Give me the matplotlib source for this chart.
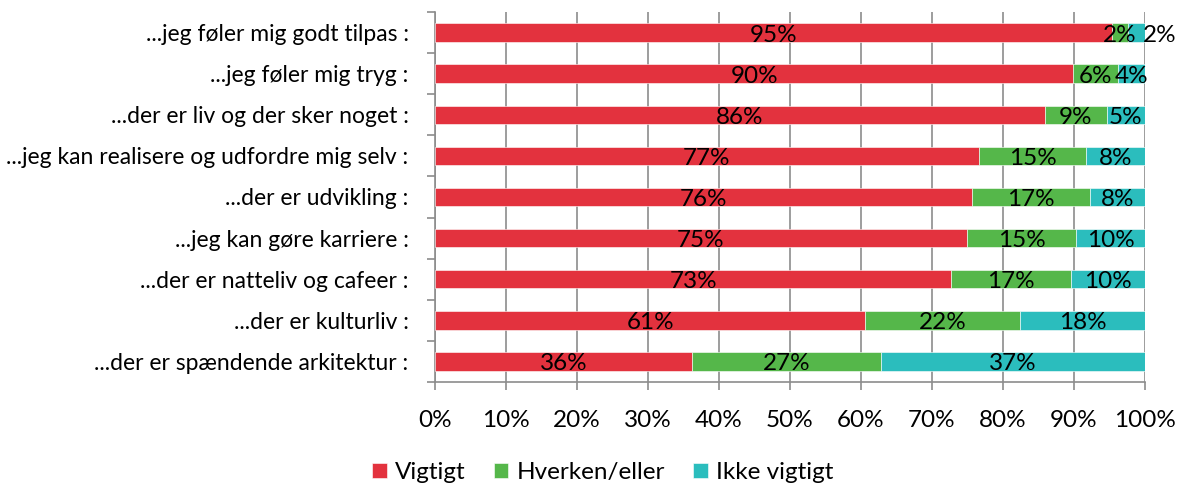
import matplotlib
matplotlib.use("Agg")
import matplotlib.pyplot as plt
import numpy as np

plt.rcParams['font.family'] = ['Lato', 'DejaVu Sans']

categories = [
    "...jeg føler mig godt tilpas :",
    "...jeg føler mig tryg :",
    "...der er liv og der sker noget :",
    "...jeg kan realisere og udfordre mig selv :",
    "...der er udvikling :",
    "...jeg kan gøre karriere :",
    "...der er natteliv og cafeer :",
    "...der er kulturliv :",
    "...der er spændende arkitektur :",
]
vigtigt = [95.4, 89.9, 85.9, 76.6, 75.6, 74.9, 72.7, 60.6, 36.2]
hverken = [2.2, 6.3, 8.7, 15.1, 16.7, 15.4, 16.9, 21.8, 26.6]
ikke = [2.4, 3.8, 5.4, 8.3, 7.7, 9.7, 10.4, 17.6, 37.2]
series_names = ["Vigtigt", "Hverken/eller", "Ikke vigtigt"]
colors = ["#E3323E", "#55B74A", "#2BBDBD"]
xticks = np.arange(0, 101, 10)

fig = plt.figure(figsize=(11.82, 4.83), dpi=100)
ax = fig.add_axes([435/1182, (483-382)/483, 710/1182, 370/483])

y = np.arange(len(categories))
left = np.zeros(len(categories))
grid_c = "#8C8C8C"
for vals, name, c in zip([vigtigt, hverken, ikke], series_names, colors):
    vals = np.array(vals)
    ax.barh(y, vals, left=left, height=0.45, color=c, label=name, zorder=3,
            edgecolor="white", linewidth=0.4)
    for i, (l, v) in enumerate(zip(left, vals)):
        xc = l + v / 2
        if i == 0 and name == "Ikke vigtigt":
            xc = 102.1
        ax.text(xc, i + 0.06, f"{v:.0f}%", ha="center", va="center",
                fontsize=17.5, color="black", zorder=5, clip_on=False)
    left += vals

ax.set_xlim(0, 100)
ax.set_ylim(len(categories) - 0.5, -0.5)
ax.set_xticks(xticks)
ax.set_xticklabels([f"{t}%" for t in xticks], fontsize=17.5)
ax.set_yticks(y)
ax.set_yticklabels(categories, fontsize=16.5)
ax.set_yticks(np.arange(-0.5, len(categories), 1), minor=True)
ax.tick_params(axis="y", which="major", length=0, pad=19)
ax.tick_params(axis="y", which="minor", length=6, color=grid_c, width=1.2)
ax.tick_params(axis="x", length=6, color=grid_c, width=1.2, pad=14)
ax.xaxis.grid(True, color=grid_c, linewidth=1.2, zorder=0)
for s in ["top", "right"]:
    ax.spines[s].set_visible(False)
for s in ["left", "bottom"]:
    ax.spines[s].set_color(grid_c)
    ax.spines[s].set_linewidth(1.2)

fig.legend(loc="lower center", bbox_to_anchor=(0.51, -0.045), ncol=3, frameon=False,
           fontsize=17.5, handlelength=0.6, handleheight=0.6, handletextpad=0.35,
           columnspacing=1.15)

fig.savefig("out.png", dpi=100)
